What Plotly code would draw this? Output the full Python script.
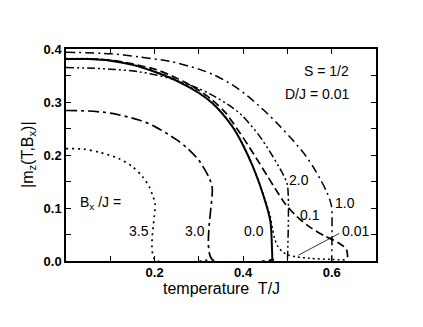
import plotly.graph_objects as go

# ---- data ----
# B_x/J = 0.0 (solid)
T_00 = [0, 0.05, 0.10, 0.15, 0.20, 0.25, 0.30, 0.33, 0.36, 0.38, 0.40, 0.42, 0.435, 0.447, 0.456, 0.462, 0.466]
m_00 = [0.381, 0.381, 0.378, 0.370, 0.357, 0.340, 0.317, 0.298, 0.271, 0.248, 0.218, 0.182, 0.150, 0.120, 0.095, 0.072, 0.0]

# B_x/J = 0.01 (dotted, tail beyond T_c)
T_001 = [0, 0.05, 0.10, 0.15, 0.20, 0.25, 0.30, 0.33, 0.36, 0.38, 0.40, 0.42, 0.435, 0.447, 0.456,
         0.461, 0.466, 0.471, 0.478, 0.488, 0.50, 0.52, 0.55, 0.60, 0.63]
m_001 = [0.382, 0.382, 0.379, 0.371, 0.358, 0.341, 0.318, 0.299, 0.272, 0.249, 0.219, 0.183, 0.151, 0.122, 0.098,
         0.085, 0.062, 0.043, 0.028, 0.018, 0.012, 0.008, 0.005, 0.003, 0.002]

# B_x/J = 0.1 (dashed)
T_01 = [0, 0.10, 0.20, 0.25, 0.30, 0.33, 0.36, 0.39, 0.41, 0.435, 0.455, 0.472, 0.495, 0.52, 0.554, 0.585, 0.614, 0.633, 0.636]
m_01 = [0.381, 0.379, 0.362, 0.345, 0.322, 0.304, 0.280, 0.245, 0.220, 0.187, 0.160, 0.137, 0.108, 0.085, 0.062, 0.047, 0.035, 0.022, 0.0]

# B_x/J = 1.0 (dash-dot)
T_10 = [0, 0.10, 0.165, 0.233, 0.30, 0.337, 0.38, 0.412, 0.45, 0.48, 0.51, 0.54, 0.56, 0.577, 0.59, 0.597, 0.60, 0.60]
m_10 = [0.394, 0.391, 0.385, 0.377, 0.362, 0.350, 0.330, 0.310, 0.282, 0.257, 0.230, 0.200, 0.175, 0.150, 0.128, 0.112, 0.100, 0.0]

# B_x/J = 2.0 (dash-dot-dot)
T_20 = [0, 0.05, 0.10, 0.165, 0.233, 0.30, 0.33, 0.375, 0.397, 0.435, 0.465, 0.491, 0.50, 0.50]
m_20 = [0.365, 0.364, 0.362, 0.357, 0.345, 0.325, 0.313, 0.290, 0.275, 0.238, 0.200, 0.162, 0.143, 0.0]

# B_x/J = 3.0 (long dash-dot)
T_30 = [0, 0.05, 0.10, 0.165, 0.20, 0.251, 0.274, 0.30, 0.322, 0.33, 0.33, 0.47]
m_30 = [0.284, 0.283, 0.279, 0.266, 0.254, 0.228, 0.213, 0.190, 0.159, 0.140, 0.003, 0.003]

# B_x/J = 3.5 (dotted)
T_35 = [0, 0.04, 0.076, 0.12, 0.15, 0.173, 0.188, 0.195, 0.201, 0.201, 0.33]
m_35 = [0.212, 0.211, 0.205, 0.193, 0.178, 0.159, 0.140, 0.125, 0.109, 0.003, 0.003]

# curve labels
label_text = ["3.5", "3.0", "0.0", "2.0", "0.1", "1.0"]
label_T = [0.165, 0.291, 0.424, 0.527, 0.551, 0.630]
label_m = [0.057, 0.057, 0.057, 0.153, 0.087, 0.109]

# pointer for the 0.01 label
pointer_T = [0.525, 0.617]
pointer_m = [0.011, 0.052]

x_ticks = [0, 0.1, 0.2, 0.3, 0.4, 0.5, 0.6, 0.7]
x_ticktext = ["", "", "0.2", "", "0.4", "", "0.6", ""]
y_ticks = [0, 0.05, 0.1, 0.15, 0.2, 0.25, 0.3, 0.35, 0.4]
y_ticktext = ["0.0", "", "0.1", "", "0.2", "", "0.3", "", "0.4"]

FONT = "Liberation Sans, Arial, Helvetica, sans-serif"

fig = go.Figure()

def add(T, m, dash, width=1.5, shape="spline"):
    fig.add_trace(go.Scatter(x=T, y=m, mode="lines",
                             line=dict(color="black", width=width, dash=dash,
                                       shape=shape, smoothing=0.8),
                             showlegend=False, hoverinfo="skip"))

add(T_001, m_001, "2px,3px", 1.5)
add(T_00, m_00, "solid", 2.0)
add(T_01, m_01, "8px,4px", 1.7)
add(T_10, m_10, "9px,4px,2px,4px", 1.5)
add(T_20, m_20, "8px,3px,2px,3px,2px,3px", 1.5)
add(T_30, m_30, "11px,4px,3px,4px", 1.7)
add(T_35, m_35, "2px,4px", 1.7)
add(pointer_T, pointer_m, "solid", 0.8, "linear")

for t, x, y in zip(label_text, label_T, label_m):
    fig.add_annotation(x=x, y=y, text=t, showarrow=False,
                       font=dict(size=14, family=FONT, color="black"))

fig.add_annotation(x=0.619, y=0.057, text="0.01", showarrow=False, xanchor="left",
                   font=dict(size=14, family=FONT, color="black"))
fig.add_annotation(x=0.026, y=0.109, text="B<sub>x</sub> /J =", showarrow=False, xanchor="left",
                   font=dict(size=14, family=FONT, color="black"))
fig.add_annotation(x=0.644, y=0.359, text="S = 1/2", showarrow=False, xanchor="right",
                   font=dict(size=14, family=FONT, color="black"))
fig.add_annotation(x=0.644, y=0.316, text="D/J = 0.01", showarrow=False, xanchor="right",
                   font=dict(size=14, family=FONT, color="black"))

# axis titles
fig.add_annotation(x=0.5, y=0, xref="paper", yref="paper", yanchor="middle", yshift=-27,
                   text="temperature\u00a0 T/J", showarrow=False,
                   font=dict(size=16, family=FONT, color="black"))
fig.add_annotation(x=0, y=0.5, xref="paper", yref="paper", xanchor="center", xshift=-38,
                   textangle=-90, text="|m<sub>z</sub>(T,B<sub>x</sub>)|", showarrow=False,
                   font=dict(size=16, family=FONT, color="black"))

axis_common = dict(showline=True, linecolor="black", linewidth=1.5, mirror="ticks",
                   ticks="inside", ticklen=5, tickwidth=1, tickcolor="black",
                   showgrid=False, zeroline=False,
                   tickfont=dict(size=13, family=FONT, color="black", weight="bold"))

fig.update_xaxes(range=[0, 0.7], tickmode="array", tickvals=x_ticks, ticktext=x_ticktext,
                 ticklabelstandoff=-1, **axis_common)
fig.update_yaxes(range=[0, 0.4], tickmode="array", tickvals=y_ticks, ticktext=y_ticktext,
                 **axis_common)

# page body has an 8px margin, so the figure is 8px smaller and margins shifted
fig.update_layout(width=415, height=319, autosize=False,
                  margin=dict(l=58, r=47, t=41, b=66),
                  paper_bgcolor="white", plot_bgcolor="white",
                  font=dict(family=FONT, color="black"))

fig.write_html("out.html")
